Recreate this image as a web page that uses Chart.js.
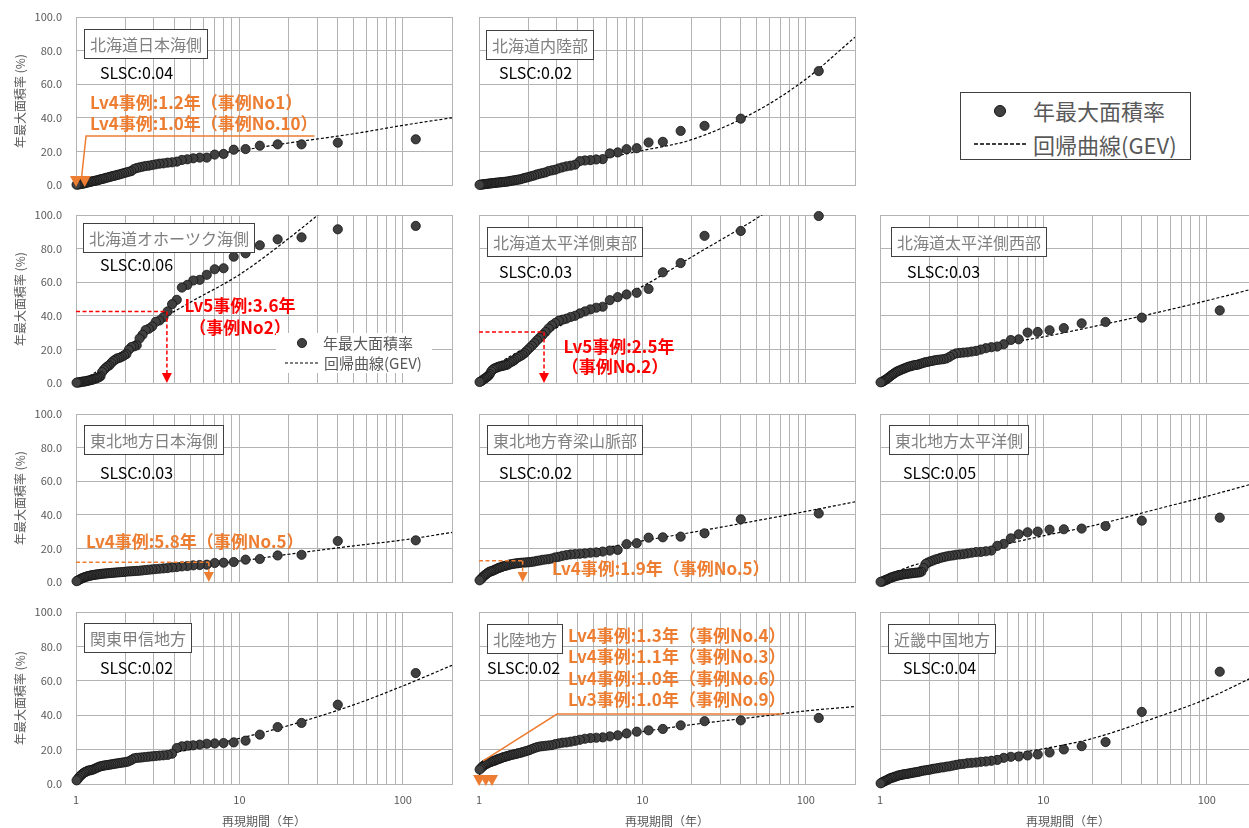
<!DOCTYPE html>
<html lang="ja">
<head>
<meta charset="utf-8">
<title>年最大面積率と回帰曲線(GEV)</title>
<script src="https://cdn.jsdelivr.net/npm/chart.js@4.4.1/dist/chart.umd.min.js"></script>
<style>
  html, body { margin: 0; padding: 0; background: #fff; }
  body { position: relative; width: 1249px; height: 828px; overflow: hidden;
         font-family: "Noto Sans CJK JP", "Noto Sans", sans-serif; }
  #legend { position: absolute; left: 960px; top: 92px; width: 229px; height: 66px;
            border: 1px solid #404040; background: #fff; color: #595959; font-size: 22px; }
  #legend .dot { position: absolute; left: 33px; top: 12px; width: 10px; height: 10px;
                 border-radius: 50%; background: #404040; border: 1px solid #111; }
  #legend .txt { position: absolute; left: 72px; line-height: 28px; white-space: nowrap; }
  #legend svg { position: absolute; left: 13px; top: 48px; }
</style>
</head>
<body>
<div id="legend">
  <div class="dot"></div>
  <div class="txt" style="top:3px">年最大面積率</div>
  <svg width="54" height="6"><line x1="0" y1="3" x2="54" y2="3" stroke="#000" stroke-width="1.5" stroke-dasharray="4 2"/></svg>
  <div class="txt" style="top:37px">回帰曲線(GEV)</div>
</div>
<script>
const FONT = '"Noto Sans CJK JP", "Noto Sans", sans-serif';
const ORANGE = '#ED7D31';
const RED = '#FF0000';
const GRID = '#b3b3b3';

// return period of each ranked year, largest first
const returnPeriods = [
  120, 40, 24, 17.143, 13.333, 10.909, 9.231, 8, 7.059, 6.316,
  5.714, 5.217, 4.8, 4.444, 4.138, 3.871, 3.636, 3.429, 3.243, 3.077,
  2.927, 2.791, 2.667, 2.553, 2.449, 2.353, 2.264, 2.182, 2.105, 2.034,
  1.967, 1.905, 1.846, 1.791, 1.739, 1.69, 1.644, 1.6, 1.558, 1.519,
  1.481, 1.446, 1.412, 1.379, 1.348, 1.319, 1.29, 1.263, 1.237, 1.212,
  1.188, 1.165, 1.143, 1.121, 1.101, 1.081, 1.062, 1.043, 1.026, 1.008
];
const gridTicks = [1, 2, 3, 4, 5, 6, 7, 8, 9, 10, 20, 30, 40, 50, 60, 70, 80, 90, 100, 200];
const labelTicks = [1, 10, 100];
const curveT = [1, 1.1, 1.5, 2, 3, 5, 10, 20, 50, 100, 200];

const hokkaidoJapanSea = [
  27.2, 25.2, 24.2, 24.2, 23.4, 21.4, 21.0, 18.5, 18.1, 16.3,
  16.3, 15.9, 15.3, 14.9, 13.9, 13.5, 13.3, 12.9, 12.7, 12.3,
  11.9, 11.5, 11.3, 10.9, 10.5, 10.1, 9.5, 8.3, 7.9, 7.5,
  7.1, 6.7, 6.3, 6.0, 5.6, 5.4, 5.0, 4.8, 4.4, 4.2,
  3.8, 3.6, 3.4, 3.0, 2.8, 2.6, 2.4, 2.2, 2.0, 1.8,
  1.6, 1.4, 1.2, 1.0, 0.8, 0.7, 0.6, 0.4, 0.3, 0.2
];
const hokkaidoJapanSeaGev = [0, 2, 6.5, 9.5, 13, 16.5, 20.5, 25, 30.5, 35.5, 40];

const hokkaidoInland = [
  67.8, 39.5, 35.2, 32.2, 25.7, 25.3, 21.9, 21.3, 19.4, 18.8,
  15.4, 15.2, 14.8, 14.6, 14.2, 12.1, 11.5, 11.1, 10.5, 9.9,
  9.1, 8.7, 8.3, 7.5, 7.1, 6.7, 6.3, 5.7, 5.3, 4.9,
  4.5, 4.2, 3.8, 3.4, 3.2, 3.0, 2.8, 2.6, 2.4, 2.2,
  2.0, 1.9, 1.8, 1.7, 1.6, 1.5, 1.4, 1.3, 1.2, 1.1,
  1.0, 0.9, 0.8, 0.7, 0.6, 0.5, 0.4, 0.3, 0.2, 0.1
];
const hokkaidoInlandGev = [0, 0.8, 3.5, 6.5, 10, 14.5, 20.5, 27, 44, 63, 88];

const hokkaidoOkhotsk = [
  93.5, 91.5, 86.7, 85.5, 82.0, 77.2, 75.2, 68.3, 67.7, 64.4,
  61.4, 61.0, 58.4, 56.8, 49.5, 46.9, 42.6, 39.2, 37.2, 36.4,
  33.7, 32.3, 31.5, 28.7, 26.5, 22.4, 21.8, 21.4, 19.8, 17.2,
  16.4, 15.6, 15.0, 14.7, 13.9, 13.1, 11.9, 10.5, 9.9, 8.9,
  7.9, 6.5, 4.0, 3.4, 3.0, 2.6, 2.4, 2.0, 1.8, 1.6,
  1.4, 1.2, 1.0, 0.9, 0.8, 0.7, 0.5, 0.4, 0.3, 0.2
];
const hokkaidoOkhotskGev = [0, 2, 10, 20, 35, 48, 64.5, 86, 118, 145, 175];

const hokkaidoPacificEast = [
  99.4, 90.5, 87.6, 71.4, 65.9, 56.0, 53.7, 52.7, 51.1, 49.3,
  45.4, 44.8, 43.8, 42.6, 41.4, 40.0, 39.3, 38.3, 37.7, 37.1,
  35.7, 34.3, 32.5, 30.4, 28.6, 27.0, 25.4, 23.7, 22.1, 20.7,
  19.3, 17.8, 16.8, 16.0, 15.4, 14.6, 13.6, 12.8, 12.4, 11.6,
  10.8, 10.7, 10.3, 10.1, 9.9, 9.7, 9.3, 8.9, 8.5, 7.9,
  6.9, 5.3, 4.3, 3.7, 3.0, 2.6, 2.0, 1.4, 1.0, 0.6
];
const hokkaidoPacificEastGev = [0, 6, 15, 22, 33, 43.8, 57.5, 75, 98, 118, 140];

const hokkaidoPacificWest = [
  43.2, 38.9, 36.3, 35.5, 32.7, 31.4, 30.4, 30.0, 26.0, 25.6,
  23.1, 21.7, 21.3, 20.7, 19.9, 19.1, 18.7, 18.3, 18.1, 17.9,
  17.6, 16.8, 15.6, 14.6, 14.2, 14.0, 13.8, 13.6, 13.2, 13.0,
  12.6, 12.4, 12.0, 11.6, 11.2, 10.8, 10.7, 10.5, 10.1, 9.9,
  9.5, 9.1, 8.7, 8.3, 7.9, 7.5, 7.1, 6.7, 6.1, 5.5,
  4.9, 4.3, 3.7, 3.0, 2.4, 2.0, 1.4, 1.0, 0.6, 0.4
];
const hokkaidoPacificWestGev = [0, 5, 11, 14, 18.5, 22.5, 27.5, 33.5, 42, 49, 56.5];

const tohokuJapanSea = [
  24.8, 24.4, 16.2, 15.8, 13.7, 13.3, 11.9, 11.5, 11.3, 10.3,
  10.1, 9.9, 9.5, 9.3, 8.9, 8.7, 8.3, 8.1, 7.9, 7.7,
  7.5, 7.3, 7.1, 6.9, 6.7, 6.6, 6.5, 6.4, 6.3, 6.2,
  6.0, 5.9, 5.8, 5.7, 5.6, 5.5, 5.4, 5.3, 5.2, 5.1,
  5.0, 4.9, 4.8, 4.6, 4.5, 4.4, 4.2, 4.1, 3.9, 3.7,
  3.5, 3.3, 3.0, 2.7, 2.4, 2.1, 1.7, 1.3, 0.9, 0.5
];
const tohokuJapanSeaGev = [0, 3.5, 5.5, 6.5, 7.8, 9.5, 12.5, 16.5, 21.5, 25, 29.5];

const tohokuMountains = [
  40.8, 37.3, 29.0, 27.0, 26.6, 26.4, 23.1, 22.5, 19.1, 18.7,
  18.1, 17.6, 17.4, 17.0, 16.8, 16.6, 16.4, 16.0, 15.6, 15.0,
  14.6, 14.0, 13.6, 13.4, 13.2, 12.8, 12.6, 12.2, 12.0, 11.8,
  11.7, 11.6, 11.5, 11.4, 11.2, 11.1, 10.9, 10.7, 10.5, 10.2,
  9.9, 9.6, 9.4, 9.0, 8.6, 8.4, 7.9, 7.5, 7.1, 6.7,
  6.4, 6.2, 5.7, 5.1, 4.5, 3.9, 3.2, 2.4, 1.6, 1.0
];
const tohokuMountainsGev = [0, 5, 10, 13, 15.5, 19, 24.5, 29.5, 36.5, 42, 47.7];

const tohokuPacific = [
  38.3, 36.5, 33.3, 31.8, 31.4, 31.2, 30.0, 29.6, 28.4, 26.0,
  22.7, 21.5, 18.7, 18.3, 17.9, 17.8, 17.4, 17.0, 16.6, 16.4,
  16.2, 15.8, 15.6, 15.2, 14.8, 14.4, 13.8, 13.4, 12.8, 12.2,
  11.6, 10.8, 8.3, 6.1, 5.7, 5.6, 5.5, 5.3, 5.2, 5.1,
  4.9, 4.8, 4.7, 4.5, 4.3, 4.1, 3.9, 3.7, 3.4, 3.2,
  2.8, 2.6, 2.2, 1.8, 1.4, 1.2, 0.8, 0.4, 0.2, 0.1
];
const tohokuPacificGev = [0, 3, 9, 12.5, 16.5, 21, 27.5, 33.5, 43.5, 51, 59];

const kantoKoshin = [
  64.5, 46.1, 35.5, 33.1, 28.7, 25.2, 24.2, 23.8, 23.6, 23.4,
  22.9, 22.5, 22.3, 21.9, 20.9, 17.6, 16.9, 16.7, 16.5, 16.3,
  16.1, 15.9, 15.7, 15.5, 15.3, 15.2, 14.9, 14.0, 13.2, 12.8,
  12.6, 12.4, 12.2, 12.0, 11.8, 11.6, 11.4, 11.2, 11.0, 10.9,
  10.7, 10.5, 10.3, 9.9, 9.5, 9.1, 8.7, 8.3, 8.1, 7.9,
  7.8, 7.4, 7.0, 6.6, 6.0, 5.4, 4.7, 3.9, 2.9, 2.1
];
const kantoKoshinGev = [0, 5, 10, 13.5, 16.5, 20, 26.5, 34, 46, 57, 69];

const hokuriku = [
  38.4, 37.0, 36.5, 34.1, 32.0, 31.2, 30.4, 29.4, 28.3, 27.7,
  27.1, 26.9, 26.7, 26.3, 25.7, 25.1, 24.6, 24.2, 24.0, 23.6,
  23.2, 22.6, 22.4, 22.2, 22.0, 21.8, 21.4, 20.9, 20.3, 19.7,
  19.3, 18.9, 18.5, 18.1, 17.9, 17.5, 17.3, 17.0, 16.8, 16.4,
  16.2, 15.8, 15.6, 15.2, 14.8, 14.6, 14.2, 13.8, 13.5, 13.3,
  12.9, 12.7, 12.3, 11.9, 11.5, 11.1, 10.5, 9.9, 9.2, 8.4
];
const hokurikuGev = [5, 12, 18, 21, 24, 27, 30.5, 34.5, 39, 42.5, 45];

const kinkiChugoku = [
  65.3, 41.9, 24.4, 22.0, 20.1, 18.3, 17.2, 16.6, 16.0, 15.8,
  15.2, 14.0, 13.5, 13.1, 12.9, 12.5, 12.3, 12.1, 11.7, 11.5,
  11.1, 10.7, 10.3, 10.1, 9.7, 9.6, 9.2, 9.0, 8.8, 8.4,
  8.2, 8.0, 7.8, 7.6, 7.2, 7.0, 6.8, 6.6, 6.4, 6.2,
  6.0, 5.8, 5.7, 5.5, 5.3, 5.1, 4.9, 4.5, 4.3, 3.9,
  3.7, 3.5, 3.1, 2.7, 2.3, 1.9, 1.6, 1.2, 0.8, 0.4
];
const kinkiChugokuGev = [0, 4, 8, 10.5, 13, 16, 20.5, 26.5, 39, 49.5, 63];

// layout of the plot areas on the page
const colLeft = [76, 479, 880];
const rowTop = [17, 215, 414, 612];
const rowHeight = [168, 168, 168, 172];
const plotWidth = 376;

const panels = [
  { name: '北海道日本海側', slsc: '0.04', row: 0, col: 0, values: hokkaidoJapanSea, gev: hokkaidoJapanSeaGev,
    box: [8, 12], slscPos: [24, 56],
    note: { color: ORANGE, font: 'bold 17px ', lines: [['Lv4事例:1.2年（事例No1）', 14, 86], ['Lv4事例:1.0年（事例No.10）', 14, 107]],
            path: [[28.8, 29.2], [1.152, 29.2], [1.083, 4.9]], marks: [1.0, 1.13] } },
  { name: '北海道内陸部', slsc: '0.02', row: 0, col: 1, values: hokkaidoInland, gev: hokkaidoInlandGev,
    box: [7, 13], slscPos: [20, 56] },
  { name: '北海道オホーツク海側', slsc: '0.06', row: 1, col: 0, values: hokkaidoOkhotsk, gev: hokkaidoOkhotskGev,
    box: [7, 8], slscPos: [24, 50],
    note: { color: RED, font: 'bold 17px ', center: true, lines: [['Lv5事例:3.6年', 164, 91], ['（事例No2）', 164, 113]],
            leader: [3.6, 42.5], inset: true } },
  { name: '北海道太平洋側東部', slsc: '0.03', row: 1, col: 1, values: hokkaidoPacificEast, gev: hokkaidoPacificEastGev,
    box: [8, 12], slscPos: [20, 57],
    note: { color: RED, font: 'bold 17px ', center: true, lines: [['Lv5事例:2.5年', 140, 132], ['（事例No.2）', 136, 152]],
            leader: [2.5, 30.4] } },
  { name: '北海道太平洋側西部', slsc: '0.03', row: 1, col: 2, values: hokkaidoPacificWest, gev: hokkaidoPacificWestGev,
    box: [11, 12], slscPos: [27, 57] },
  { name: '東北地方日本海側', slsc: '0.03', row: 2, col: 0, values: tohokuJapanSea, gev: tohokuJapanSeaGev,
    box: [8, 11], slscPos: [24, 59],
    note: { color: ORANGE, font: 'bold 17px ', lines: [['Lv4事例:5.8年（事例No.5）', 10, 128]], leader: [6.5, 11.7] } },
  { name: '東北地方脊梁山脈部', slsc: '0.02', row: 2, col: 1, values: tohokuMountains, gev: tohokuMountainsGev,
    box: [8, 11], slscPos: [20, 59],
    note: { color: ORANGE, font: 'bold 17px ', lines: [['Lv4事例:1.9年（事例No.5）', 73, 155]], leader: [1.85, 12.6] } },
  { name: '東北地方太平洋側', slsc: '0.05', row: 2, col: 2, values: tohokuPacific, gev: tohokuPacificGev,
    box: [9, 11], slscPos: [23, 59] },
  { name: '関東甲信地方', slsc: '0.02', row: 3, col: 0, values: kantoKoshin, gev: kantoKoshinGev,
    box: [8, 11], slscPos: [24, 56] },
  { name: '北陸地方', slsc: '0.02', row: 3, col: 1, values: hokuriku, gev: hokurikuGev,
    box: [8, 12], slscPos: [8, 56],
    note: { color: ORANGE, font: 'bold 17px ',
            lines: [['Lv4事例:1.3年（事例No.4）', 89, 24], ['Lv4事例:1.1年（事例No.3）', 89, 45],
                    ['Lv4事例:1.0年（事例No.6）', 89, 67], ['Lv3事例:1.0年（事例No.9）', 89, 88]],
            path: [[72, 40.7], [3.0, 40.7], [1.06, 13.4]], marks: [1.0, 1.1, 1.2] } },
  { name: '近畿中国地方', slsc: '0.04', row: 3, col: 2, values: kinkiChugoku, gev: kinkiChugokuGev,
    box: [8, 12], slscPos: [23, 56] }
];

function decor(p) {
  return {
    id: 'decor',
    afterDatasetsDraw(chart) {
      const { ctx, chartArea: a, scales } = chart;
      const sx = v => scales.x.getPixelForValue(v);
      const sy = v => scales.y.getPixelForValue(v);
      ctx.save();
      ctx.textBaseline = 'middle';
      ctx.textAlign = 'left';

      // region name box + SLSC
      ctx.font = '16px ' + FONT;
      const tw = ctx.measureText(p.name).width;
      const bx = Math.round(a.left + p.box[0]) + 0.5, by = Math.round(a.top + p.box[1]) + 0.5;
      ctx.fillStyle = '#fff';
      ctx.fillRect(bx, by, tw + 11, 29);
      ctx.strokeStyle = '#404040';
      ctx.lineWidth = 1;
      ctx.strokeRect(bx, by, tw + 11, 29);
      ctx.fillStyle = '#808080';
      ctx.fillText(p.name, bx + 5.5, by + 15);
      ctx.fillStyle = '#000';
      ctx.fillText('SLSC:' + p.slsc, a.left + p.slscPos[0], a.top + p.slscPos[1]);

      const n = p.note;
      if (n) {
        ctx.strokeStyle = n.color;
        ctx.fillStyle = n.color;
        ctx.lineWidth = 1.5;
        const y0 = sy(0);
        if (n.leader) {
          const lx = sx(n.leader[0]), ly = sy(n.leader[1]);
          ctx.setLineDash([4, 2.5]);
          ctx.beginPath();
          ctx.moveTo(sx(1), ly); ctx.lineTo(lx, ly);
          ctx.moveTo(lx, ly); ctx.lineTo(lx, y0 - 9);
          ctx.stroke();
          ctx.setLineDash([]);
          ctx.beginPath();
          ctx.moveTo(lx - 5, y0 - 10); ctx.lineTo(lx + 5, y0 - 10); ctx.lineTo(lx, y0);
          ctx.closePath(); ctx.fill();
        }
        if (n.path) {
          ctx.beginPath();
          n.path.forEach(([t, v], i) => i ? ctx.lineTo(sx(t), sy(v)) : ctx.moveTo(sx(t), sy(v)));
          ctx.stroke();
        }
        if (n.marks) {
          n.marks.forEach(t => {
            const mx = sx(t);
            ctx.beginPath();
            ctx.moveTo(mx - 6, y0 - 9); ctx.lineTo(mx + 6, y0 - 9); ctx.lineTo(mx, y0 + 2);
            ctx.closePath(); ctx.fill();
          });
        }
        ctx.font = n.font + FONT;
        ctx.textAlign = n.center ? 'center' : 'left';
        n.lines.forEach(([text, dx, dy]) => ctx.fillText(text, a.left + dx, a.top + dy));
        ctx.textAlign = 'left';

        if (n.inset) {
          // legend placed inside the Okhotsk panel
          ctx.fillStyle = '#fff';
          ctx.fillRect(a.left + 200, a.top + 118, 156, 40);
          ctx.fillStyle = '#404040';
          ctx.strokeStyle = '#111';
          ctx.lineWidth = 0.8;
          ctx.beginPath(); ctx.arc(a.left + 226, a.top + 128, 4.6, 0, Math.PI * 2); ctx.fill(); ctx.stroke();
          ctx.strokeStyle = '#000';
          ctx.lineWidth = 1.2;
          ctx.setLineDash([3, 2]);
          ctx.beginPath(); ctx.moveTo(a.left + 209, a.top + 148); ctx.lineTo(a.left + 244, a.top + 148); ctx.stroke();
          ctx.setLineDash([]);
          ctx.fillStyle = '#595959';
          ctx.font = '15px ' + FONT;
          ctx.fillText('年最大面積率', a.left + 247, a.top + 128);
          ctx.fillText('回帰曲線(GEV)', a.left + 248, a.top + 148);
        }
      }
      ctx.restore();
    }
  };
}

Chart.defaults.font.family = FONT;
Chart.defaults.color = '#595959';

panels.forEach(p => {
  const first = p.col === 0, bottom = p.row === 3;
  // margins around the plot area; top/bottom leave room for the y label padding
  const L = first ? 76 : 12, T = 24, R = 12, B = bottom ? 45 : 24;
  const w = L + plotWidth + R, h = T + rowHeight[p.row] + B;
  const canvas = document.createElement('canvas');
  canvas.width = w;
  canvas.height = h;
  canvas.style.cssText = `position:absolute;left:${colLeft[p.col] - L}px;top:${rowTop[p.row] - T}px;width:${w}px;height:${h}px`;
  document.body.appendChild(canvas);

  new Chart(canvas, {
    type: 'scatter',
    data: {
      datasets: [
        {
          label: '年最大面積率',
          data: returnPeriods.map((t, i) => ({ x: t, y: p.values[i] })),
          pointRadius: 4.6,
          pointBackgroundColor: '#404040',
          pointBorderColor: '#111',
          pointBorderWidth: 0.8,
          clip: false
        },
        {
          label: '回帰曲線(GEV)',
          data: curveT.map((t, i) => ({ x: t, y: p.gev[i] })),
          showLine: true,
          borderColor: '#000',
          borderWidth: 1.2,
          borderDash: [3, 2],
          pointRadius: 0,
          cubicInterpolationMode: 'monotone'
        }
      ]
    },
    options: {
      responsive: false,
      animation: false,
      devicePixelRatio: 1,
      layout: { padding: { left: 0, right: R, top: T, bottom: 0 } },
      plugins: { legend: { display: false }, tooltip: { enabled: false } },
      scales: {
        x: {
          type: 'logarithmic',
          min: 1,
          max: 200,
          afterBuildTicks: s => { s.ticks = gridTicks.map(v => ({ value: v })); },
          afterFit: s => { s.height = B; },
          grid: { color: GRID, drawTicks: false },
          border: { color: GRID },
          ticks: {
            display: bottom,
            autoSkip: false,
            maxRotation: 0,
            padding: 9,
            font: { size: 11 },
            callback: v => labelTicks.includes(v) ? String(v) : ''
          },
          title: { display: bottom, text: '再現期間（年）', font: { size: 12 }, padding: { top: 0, bottom: 0 } }
        },
        y: {
          min: 0,
          max: 100,
          afterFit: s => { s.width = L; },
          grid: { color: GRID, drawTicks: false },
          border: { color: GRID },
          ticks: {
            display: first,
            stepSize: 20,
            padding: 14,
            font: { size: 11 },
            callback: v => v.toFixed(1)
          },
          title: { display: first, text: '年最大面積率 (%)', font: { size: 12 }, padding: { top: 13, bottom: 0 } }
        }
      }
    },
    plugins: [decor(p)]
  });
});
</script>
</body>
</html>
